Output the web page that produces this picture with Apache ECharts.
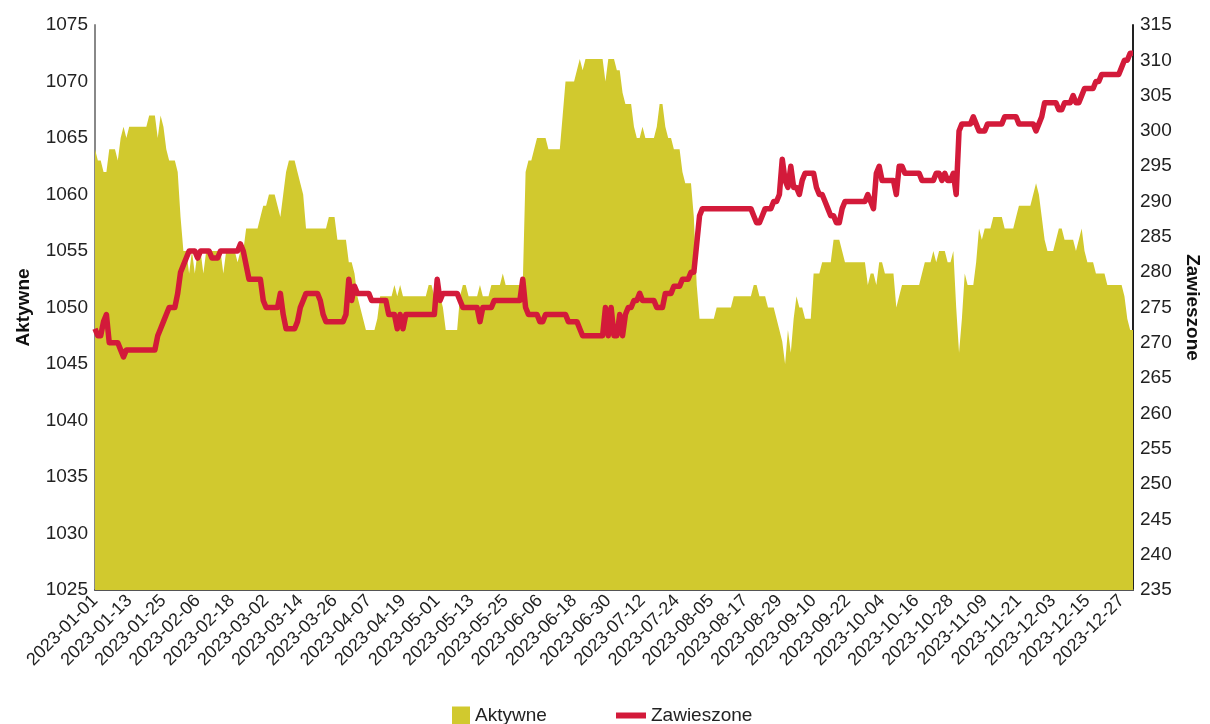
<!DOCTYPE html>
<html>
<head>
<meta charset="utf-8">
<script src="https://cdn.jsdelivr.net/npm/echarts@6/dist/echarts.min.js"></script>
<style>html,body{margin:0;padding:0;background:#fff}#chart{width:1210px;height:724px}</style>
</head>
<body>
<div id="chart"></div>
<script>
// Category axis: every day of 2023
const startDate = '2023-01-01';
const dayCount = 365;
const categories = [];
(function () {
  const d0 = new Date(startDate + 'T00:00:00Z');
  for (let i = 0; i < dayCount; i++) {
    const d = new Date(d0.getTime() + i * 86400000);
    categories.push(d.toISOString().slice(0, 10));
  }
})();

const seriesNames = ['Aktywne', 'Zawieszone'];

// Aktywne (left axis), one value per day
const aktywne = [
  1064,1063,1063,1062,1062,1064,1064,1064,1063,1065,
  1066,1065,1066,1066,1066,1066,1066,1066,1066,1067,
  1067,1067,1065,1067,1066,1064,1063,1063,1063,1062,
  1058,1055,1055,1053,1055,1053,1055,1055,1053,1055,
  1055,1055,1055,1055,1055,1053,1055,1055,1055,1055,
  1054,1055,1055,1057,1057,1057,1057,1057,1058,1059,
  1059,1060,1060,1060,1059,1058,1060,1062,1063,1063,
  1063,1062,1061,1060,1057,1057,1057,1057,1057,1057,
  1057,1057,1058,1058,1058,1056,1056,1056,1056,1054,
  1054,1053,1051,1050,1049,1048,1048,1048,1048,1049,
  1051,1051,1051,1051,1051,1052,1051,1052,1051,1051,
  1051,1051,1051,1051,1051,1051,1051,1052,1052,1051,
  1051,1051,1050,1048,1048,1048,1048,1048,1051,1052,
  1052,1051,1051,1051,1051,1052,1051,1051,1051,1052,
  1052,1052,1052,1053,1052,1052,1052,1052,1052,1052,
  1052,1062,1063,1063,1064,1065,1065,1065,1065,1064,
  1064,1064,1064,1064,1067,1070,1070,1070,1070,1071,
  1072,1071,1072,1072,1072,1072,1072,1072,1072,1070,
  1072,1072,1072,1071,1071,1069,1068,1068,1068,1066,
  1065,1065,1066,1065,1065,1065,1065,1066,1068,1068,
  1066,1065,1065,1064,1064,1064,1062,1061,1061,1061,
  1058,1052,1049,1049,1049,1049,1049,1049,1050,1050,
  1050,1050,1050,1050,1051,1051,1051,1051,1051,1051,
  1051,1052,1052,1051,1051,1051,1050,1050,1050,1049,
  1048,1047,1045,1048,1046,1049,1051,1050,1050,1049,
  1049,1049,1053,1053,1053,1054,1054,1054,1054,1056,
  1056,1056,1055,1054,1054,1054,1054,1054,1054,1054,
  1054,1052,1053,1053,1052,1054,1054,1053,1053,1053,
  1053,1050,1051,1052,1052,1052,1052,1052,1052,1052,
  1053,1054,1054,1054,1055,1054,1055,1055,1055,1054,
  1054,1055,1050,1046,1049,1053,1052,1052,1052,1054,
  1057,1056,1057,1057,1057,1058,1058,1058,1058,1057,
  1057,1057,1057,1058,1059,1059,1059,1059,1059,1060,
  1061,1060,1058,1056,1055,1055,1055,1056,1057,1057,
  1056,1056,1056,1056,1055,1056,1057,1055,1054,1054,
  1054,1053,1053,1053,1053,1052,1052,1052,1052,1052,
  1052,1051,1049,1048,1048
];

// Zawieszone (right axis), one value per day
const zawieszone = [
  272,271,271,273,274,270,270,270,270,269,
  268,269,269,269,269,269,269,269,269,269,
  269,269,271,272,273,274,275,275,275,277,
  280,281,282,283,283,283,282,283,283,283,
  283,282,282,282,283,283,283,283,283,283,
  283,284,283,281,279,279,279,279,279,276,
  275,275,275,275,275,277,274,272,272,272,
  272,273,275,276,277,277,277,277,277,276,
  274,273,273,273,273,273,273,273,274,279,
  276,278,277,277,277,277,277,276,276,276,
  276,276,276,274,274,274,272,274,272,274,
  274,274,274,274,274,274,274,274,274,274,
  279,276,277,277,277,277,277,277,276,275,
  275,275,275,275,275,273,275,275,275,275,
  276,276,276,276,276,276,276,276,276,276,
  279,275,274,274,274,274,273,273,274,274,
  274,274,274,274,274,274,273,273,273,273,
  272,271,271,271,271,271,271,271,271,275,
  271,275,271,271,274,271,274,275,275,276,
  276,277,276,276,276,276,276,275,275,275,
  277,277,277,278,278,278,279,279,279,280,
  280,284,288,289,289,289,289,289,289,289,
  289,289,289,289,289,289,289,289,289,289,
  289,288,287,287,288,289,289,289,290,290,
  291,296,293,292,295,292,292,291,293,294,
  294,294,294,292,291,291,290,289,288,288,
  287,287,289,290,290,290,290,290,290,290,
  290,291,290,289,294,295,293,293,293,293,
  293,291,295,295,294,294,294,294,294,294,
  293,293,293,293,293,294,294,293,294,293,
  293,294,291,300,301,301,301,301,302,301,
  300,300,300,301,301,301,301,301,301,302,
  302,302,302,302,301,301,301,301,301,301,
  300,301,302,304,304,304,304,304,303,303,
  304,304,304,305,304,304,305,306,306,306,
  306,307,307,308,308,308,308,308,308,308,
  309,310,310,311,311
];

// Axis ranges / ticks
const leftAxis = { min: 1025, max: 1075, interval: 5 };
const rightAxis = { min: 235, max: 315, interval: 5 };

const FONT = "'Liberation Sans', Arial, sans-serif";
const YELLOW = '#d1c92e';
const RED = '#d31a3a';

const chart = echarts.init(document.getElementById('chart'), null, { renderer: 'canvas' });
chart.setOption({
  animation: false,
  backgroundColor: '#ffffff',
  textStyle: { fontFamily: FONT },
  grid: { left: 95, right: 73, top: 25, bottom: 134, containLabel: false },
  legend: [
    {
      data: [{ name: seriesNames[0], icon: 'rect' }],
      left: 447, top: 701, itemWidth: 18, itemHeight: 18, itemGap: 10,
      textStyle: { fontFamily: FONT, fontSize: 19, color: '#222' }
    },
    {
      data: [{ name: seriesNames[1], icon: 'rect' }],
      left: 611, top: 701, itemWidth: 30, itemHeight: 6, itemGap: 10,
      textStyle: { fontFamily: FONT, fontSize: 19, color: '#222' }
    }
  ],
  xAxis: {
    type: 'category',
    data: categories,
    boundaryGap: false,
    axisLine: { onZero: false, lineStyle: { color: '#555', width: 2 } },
    axisTick: { show: false },
    axisLabel: {
      interval: 11, rotate: 45, margin: 8,
      fontFamily: FONT, fontSize: 18, color: '#222'
    },
    splitLine: { show: false }
  },
  yAxis: [
    {
      type: 'value', position: 'left',
      min: leftAxis.min, max: leftAxis.max, interval: leftAxis.interval,
      name: seriesNames[0], nameLocation: 'middle', nameRotate: 90, nameGap: 62,
      nameTextStyle: { fontFamily: FONT, fontSize: 19, fontWeight: 'bold', color: '#111' },
      axisLine: { show: true, lineStyle: { color: '#888', width: 2 } },
      axisTick: { show: false },
      axisLabel: { fontFamily: FONT, fontSize: 19, color: '#222', margin: 7, formatter: function (v) { return String(v); } },
      splitLine: { show: false }
    },
    {
      type: 'value', position: 'right',
      min: rightAxis.min, max: rightAxis.max, interval: rightAxis.interval,
      name: seriesNames[1], nameLocation: 'middle', nameRotate: -90, nameGap: 50,
      nameTextStyle: { fontFamily: FONT, fontSize: 19, fontWeight: 'bold', color: '#111' },
      axisLine: { show: true, lineStyle: { color: '#222', width: 2 } },
      axisTick: { show: false },
      axisLabel: { fontFamily: FONT, fontSize: 19, color: '#222', margin: 7, formatter: function (v) { return String(v); } },
      splitLine: { show: false }
    }
  ],
  series: [
    {
      name: seriesNames[0], type: 'line', yAxisIndex: 0,
      data: aktywne, showSymbol: false, symbol: 'none',
      color: YELLOW,
      lineStyle: { width: 0, color: YELLOW },
      itemStyle: { color: YELLOW },
      areaStyle: { color: YELLOW, opacity: 1 },
      z: 1
    },
    {
      name: seriesNames[1], type: 'line', yAxisIndex: 1,
      data: zawieszone, showSymbol: false, symbol: 'none',
      color: RED,
      lineStyle: { width: 5.5, color: RED, join: 'round' },
      itemStyle: { color: RED },
      z: 3
    }
  ]
});
</script>
</body>
</html>
